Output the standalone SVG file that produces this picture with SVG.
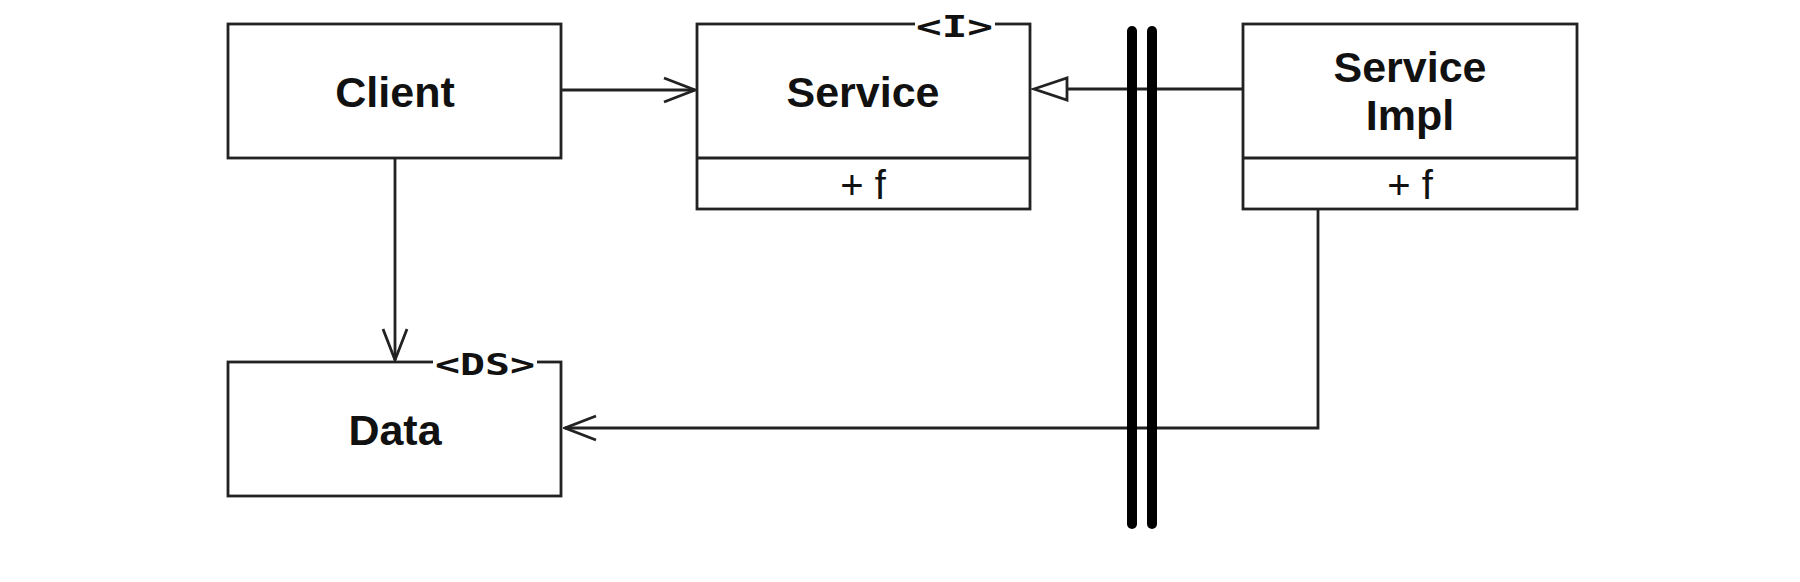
<svg xmlns="http://www.w3.org/2000/svg" width="1800" height="582" viewBox="0 0 1800 582">
<style>
.box{fill:#fff;stroke:#222;stroke-width:2.8}
.ln{fill:none;stroke:#222;stroke-width:2.8}
.name{font-family:"Liberation Sans",Arial,sans-serif;font-weight:bold;font-size:43px;fill:#111;text-anchor:middle}
.op{font-family:"Liberation Sans",Arial,sans-serif;font-size:40px;fill:#111;text-anchor:middle}
.st{font-family:"DejaVu Sans Mono","Liberation Mono",monospace;font-weight:bold;font-size:30px;fill:#111}
.bar{stroke:#000;stroke-width:10;stroke-linecap:round}
</style>
<defs>
<marker id="open" viewBox="-34 -14 36 28" markerWidth="36" markerHeight="28" refX="0" refY="0" orient="auto" markerUnits="userSpaceOnUse">
<path d="M -31 -12 L 0 0 L -31 12" fill="none" stroke="#222" stroke-width="2.8"/>
</marker>
</defs>
<g id="client">
<rect class="box" x="228" y="24" width="333" height="134"/>
<text class="name" x="395" y="107">Client</text>
</g>
<g id="service">
<rect class="box" x="697" y="24" width="333" height="185"/>
<line class="ln" x1="697" y1="158" x2="1030" y2="158"/>
<rect x="915" y="15" width="80" height="22" fill="#fff"/>
<text class="st" x="916" y="37" textLength="77" lengthAdjust="spacingAndGlyphs">&lt;I&gt;</text>
<text class="name" x="863" y="107">Service</text>
<text class="op" x="863" y="199">+ f</text>
</g>
<g id="serviceimpl">
<rect class="box" x="1243" y="24" width="334" height="185"/>
<line class="ln" x1="1243" y1="158" x2="1577" y2="158"/>
<text class="name" x="1410" y="82">Service</text>
<text class="name" x="1410" y="130">Impl</text>
<text class="op" x="1410" y="199">+ f</text>
</g>
<g id="data">
<rect class="box" x="228" y="362" width="333" height="134"/>
<rect x="433" y="351" width="104" height="24" fill="#fff"/>
<text class="st" x="435" y="375" textLength="100" lengthAdjust="spacingAndGlyphs">&lt;DS&gt;</text>
<text class="name" x="395" y="445">Data</text>
</g>
<g id="connectors">
<line class="ln" x1="561" y1="90" x2="695" y2="90" marker-end="url(#open)"/>
<line class="ln" x1="395" y1="158" x2="395" y2="360" marker-end="url(#open)"/>
<line class="ln" x1="1243" y1="89" x2="1067" y2="89"/>
<polygon class="ln" points="1034,89 1067,78 1067,100" style="fill:#fff"/>
<polyline class="ln" points="1318,209 1318,428 565,428" marker-end="url(#open)"/>
</g>
<g id="boundary">
<line class="bar" x1="1132" y1="31" x2="1132" y2="524"/>
<line class="bar" x1="1152" y1="31" x2="1152" y2="524"/>
</g>
</svg>
